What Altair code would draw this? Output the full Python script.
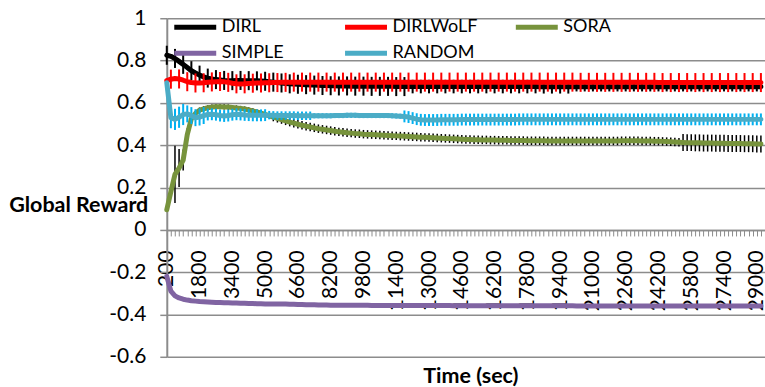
import altair as alt
import pandas as pd

FONT = "Lato"
SERIES = ["DIRL", "DIRLWoLF", "SORA", "SIMPLE", "RANDOM"]
SERIES_COLORS = {"DIRL": "#000000", "DIRLWoLF": "#FF0000", "SORA": "#77933C",
                 "SIMPLE": "#8064A2", "RANDOM": "#4BACC6"}
# legend is filled column by column (2 rows x 3 columns)
LEGEND_ORDER = ["DIRL", "SIMPLE", "DIRLWoLF", "RANDOM", "SORA"]
BAR_COLORS = {"DIRL": "#000000", "DIRLWoLF": "#FF0000", "SORA": "#000000", "RANDOM": "#00B0F0"}
T_START, T_STEP = 200, 200          # time (sec) of first sample and sampling step
X_LABEL_EVERY = 1600
Y_TICKS = [-0.6, -0.4, -0.2, 0, 0.2, 0.4, 0.6, 0.8, 1]

DIRL = [
    0.825, 0.820, 0.810, 0.796, 0.782, 0.767, 0.752, 0.741, 0.731, 0.723,
    0.717, 0.713, 0.710, 0.708, 0.706, 0.705, 0.705, 0.706, 0.706, 0.705,
    0.705, 0.704, 0.704, 0.703, 0.702, 0.700, 0.698, 0.696, 0.694, 0.692,
    0.690, 0.689, 0.688, 0.687, 0.686, 0.685, 0.684, 0.683, 0.682, 0.682,
    0.681, 0.681, 0.680, 0.680, 0.680, 0.679, 0.679, 0.679, 0.679, 0.678,
    0.678, 0.678, 0.678, 0.678, 0.678, 0.678, 0.677, 0.677, 0.677, 0.677,
    0.677, 0.677, 0.677, 0.677, 0.677, 0.677, 0.677, 0.677, 0.677, 0.677,
    0.677, 0.677, 0.677, 0.677, 0.677, 0.677, 0.677, 0.677, 0.677, 0.677,
    0.677, 0.677, 0.677, 0.677, 0.677, 0.677, 0.677, 0.677, 0.677, 0.677,
    0.677, 0.676, 0.676, 0.676, 0.676, 0.676, 0.676, 0.676, 0.676, 0.676,
    0.676, 0.676, 0.676, 0.676, 0.676, 0.676, 0.676, 0.676, 0.676, 0.676,
    0.676, 0.676, 0.676, 0.676, 0.676, 0.676, 0.676, 0.676, 0.676, 0.676,
    0.676, 0.676, 0.676, 0.676, 0.676, 0.676, 0.676, 0.676, 0.676, 0.676,
    0.676, 0.676, 0.676, 0.676, 0.676, 0.676, 0.676, 0.676, 0.676, 0.676,
    0.676, 0.676, 0.676, 0.676, 0.676, 0.676,
]
DIRLWOLF = [
    0.705, 0.712, 0.715, 0.713, 0.707, 0.700, 0.696, 0.694, 0.694, 0.695,
    0.697, 0.699, 0.700, 0.701, 0.700, 0.697, 0.693, 0.690, 0.689, 0.690,
    0.692, 0.693, 0.694, 0.694, 0.695, 0.695, 0.696, 0.696, 0.697, 0.697,
    0.698, 0.698, 0.698, 0.698, 0.698, 0.698, 0.698, 0.698, 0.698, 0.698,
    0.698, 0.698, 0.698, 0.698, 0.698, 0.698, 0.698, 0.698, 0.698, 0.698,
    0.698, 0.698, 0.698, 0.698, 0.698, 0.698, 0.698, 0.698, 0.698, 0.698,
    0.698, 0.698, 0.698, 0.698, 0.698, 0.698, 0.698, 0.698, 0.698, 0.698,
    0.698, 0.698, 0.698, 0.698, 0.698, 0.698, 0.698, 0.698, 0.698, 0.698,
    0.698, 0.698, 0.698, 0.698, 0.698, 0.698, 0.698, 0.698, 0.698, 0.698,
    0.698, 0.698, 0.698, 0.698, 0.698, 0.698, 0.698, 0.698, 0.698, 0.698,
    0.697, 0.697, 0.697, 0.697, 0.697, 0.697, 0.697, 0.697, 0.697, 0.697,
    0.697, 0.697, 0.697, 0.697, 0.697, 0.697, 0.697, 0.697, 0.697, 0.697,
    0.696, 0.696, 0.696, 0.696, 0.696, 0.696, 0.696, 0.696, 0.696, 0.696,
    0.696, 0.696, 0.696, 0.696, 0.696, 0.696, 0.696, 0.696, 0.696, 0.696,
    0.696, 0.696, 0.696, 0.696, 0.696, 0.696,
]
SORA = [
    0.095, 0.180, 0.262, 0.292, 0.330, 0.450, 0.525, 0.550, 0.566, 0.572,
    0.577, 0.580, 0.582, 0.582, 0.581, 0.580, 0.578, 0.576, 0.574, 0.571,
    0.567, 0.562, 0.557, 0.551, 0.545, 0.539, 0.533, 0.527, 0.521, 0.515,
    0.509, 0.504, 0.499, 0.494, 0.490, 0.486, 0.482, 0.478, 0.475, 0.472,
    0.469, 0.466, 0.463, 0.461, 0.459, 0.457, 0.455, 0.454, 0.452, 0.451,
    0.450, 0.449, 0.448, 0.447, 0.446, 0.445, 0.444, 0.443, 0.442, 0.441,
    0.440, 0.439, 0.438, 0.437, 0.436, 0.435, 0.434, 0.433, 0.432, 0.431,
    0.430, 0.429, 0.428, 0.427, 0.427, 0.426, 0.426, 0.425, 0.425, 0.424,
    0.424, 0.423, 0.423, 0.423, 0.422, 0.422, 0.422, 0.422, 0.421, 0.421,
    0.421, 0.421, 0.421, 0.420, 0.420, 0.420, 0.420, 0.420, 0.420, 0.420,
    0.420, 0.420, 0.420, 0.420, 0.420, 0.420, 0.420, 0.420, 0.420, 0.420,
    0.420, 0.421, 0.421, 0.421, 0.421, 0.421, 0.420, 0.420, 0.420, 0.419,
    0.419, 0.418, 0.417, 0.416, 0.415, 0.414, 0.413, 0.412, 0.412, 0.411,
    0.411, 0.410, 0.410, 0.410, 0.409, 0.409, 0.409, 0.408, 0.408, 0.408,
    0.408, 0.407, 0.407, 0.407, 0.406, 0.406,
]
SIMPLE = [
    -0.220, -0.290, -0.312, -0.322, -0.328, -0.332, -0.335, -0.337, -0.339, -0.340,
    -0.341, -0.342, -0.343, -0.344, -0.345, -0.345, -0.346, -0.346, -0.347, -0.347,
    -0.348, -0.348, -0.349, -0.349, -0.350, -0.350, -0.350, -0.351, -0.351, -0.351,
    -0.352, -0.352, -0.353, -0.353, -0.354, -0.354, -0.354, -0.355, -0.355, -0.355,
    -0.356, -0.356, -0.356, -0.356, -0.357, -0.357, -0.357, -0.357, -0.357, -0.357,
    -0.358, -0.358, -0.358, -0.358, -0.358, -0.358, -0.358, -0.358, -0.358, -0.358,
    -0.358, -0.358, -0.358, -0.358, -0.358, -0.358, -0.358, -0.358, -0.358, -0.358,
    -0.359, -0.359, -0.359, -0.359, -0.359, -0.359, -0.359, -0.359, -0.359, -0.359,
    -0.359, -0.359, -0.359, -0.359, -0.359, -0.359, -0.359, -0.359, -0.359, -0.359,
    -0.359, -0.359, -0.359, -0.359, -0.359, -0.359, -0.359, -0.359, -0.359, -0.359,
    -0.360, -0.360, -0.360, -0.360, -0.360, -0.360, -0.360, -0.360, -0.360, -0.360,
    -0.360, -0.360, -0.360, -0.360, -0.360, -0.360, -0.360, -0.360, -0.360, -0.360,
    -0.360, -0.360, -0.360, -0.360, -0.360, -0.360, -0.360, -0.360, -0.360, -0.360,
    -0.360, -0.360, -0.360, -0.360, -0.360, -0.360, -0.360, -0.360, -0.360, -0.360,
    -0.360, -0.360, -0.360, -0.360, -0.360, -0.360,
]
RANDOM = [
    0.695, 0.530, 0.522, 0.532, 0.545, 0.548, 0.540, 0.530, 0.533, 0.540,
    0.545, 0.546, 0.544, 0.540, 0.538, 0.540, 0.544, 0.546, 0.545, 0.543,
    0.542, 0.541, 0.541, 0.541, 0.542, 0.542, 0.541, 0.540, 0.540, 0.540,
    0.540, 0.540, 0.539, 0.539, 0.539, 0.539, 0.539, 0.539, 0.539, 0.539,
    0.539, 0.540, 0.540, 0.540, 0.541, 0.541, 0.541, 0.540, 0.540, 0.540,
    0.540, 0.540, 0.540, 0.540, 0.540, 0.539, 0.538, 0.537, 0.536, 0.533,
    0.528, 0.523, 0.520, 0.519, 0.519, 0.519, 0.519, 0.520, 0.520, 0.520,
    0.520, 0.520, 0.521, 0.521, 0.521, 0.521, 0.521, 0.521, 0.521, 0.521,
    0.521, 0.521, 0.521, 0.521, 0.521, 0.521, 0.522, 0.522, 0.522, 0.522,
    0.522, 0.522, 0.522, 0.522, 0.522, 0.522, 0.522, 0.522, 0.522, 0.522,
    0.522, 0.522, 0.522, 0.522, 0.522, 0.522, 0.522, 0.522, 0.522, 0.522,
    0.522, 0.522, 0.522, 0.522, 0.522, 0.522, 0.522, 0.522, 0.522, 0.522,
    0.522, 0.522, 0.522, 0.522, 0.522, 0.522, 0.522, 0.522, 0.522, 0.522,
    0.522, 0.522, 0.522, 0.522, 0.522, 0.522, 0.522, 0.522, 0.522, 0.522,
    0.522, 0.522, 0.522, 0.522, 0.522, 0.522,
]

# error-bar half widths, as runs of (number of samples, half width)
ERR_DIRL = [(60, 0.045), (40, 0.032), (46, 0.022)]
ERR_DIRLWOLF = [(146, 0.045)]
ERR_SORA = [(1, 0.0), (1, 0.03), (1, 0.135), (1, 0.09), (1, 0.05), (1, 0.03),
            (20, 0.012), (100, 0.02), (20, 0.04)]
ERR_RANDOM = [(1, 0.0), (4, 0.05), (5, 0.04), (15, 0.028), (11, 0.02),
              (22, 0.012), (88, 0.028)]

VALUES = {"DIRL": DIRL, "DIRLWoLF": DIRLWOLF, "SORA": SORA, "SIMPLE": SIMPLE, "RANDOM": RANDOM}
ERRORS = {"DIRL": ERR_DIRL, "DIRLWoLF": ERR_DIRLWOLF, "SORA": ERR_SORA, "RANDOM": ERR_RANDOM}
BAR_STRIDE = {"DIRL": (2, 0), "DIRLWoLF": (2, 1), "SORA": (1, 0), "RANDOM": (1, 0)}


def expand(runs):
    out = []
    for n, e in runs:
        out += [e] * n
    return out


line_rows, bar_rows = [], []
for s in SERIES:
    vals = VALUES[s]
    errs = expand(ERRORS[s]) if s in ERRORS else None
    for i, v in enumerate(vals):
        t = T_START + T_STEP * i
        line_rows.append({"series": s, "t": t, "value": v})
        if errs is not None:
            stride, off = BAR_STRIDE[s]
            e = errs[i]
            if (i - off) % stride == 0 and e > 0:
                bar_rows.append({"series": s, "t": t, "lo": v - e, "hi": v + e})

df_line = pd.DataFrame(line_rows)
df_bar = pd.DataFrame(bar_rows)

GRID = "#8c8c8c"
n_pts = len(DIRL)
x_max = T_START + T_STEP * n_pts  # one step of room after the last sample
x_scale = alt.Scale(domain=[T_START, x_max], nice=False, zero=False)
y_scale = alt.Scale(domain=[-0.6, 1], nice=False, zero=False)

x_axis = alt.Axis(
    values=list(range(T_START, x_max + 1, T_STEP)),
    format="d",
    labelExpr=f"(datum.value - {T_START}) % {X_LABEL_EVERY} == 0 ? datum.label : ''",
    labelAngle=-90, labelOverlap=False, labelFlush=False,
    labelFont=FONT, labelFontSize=21, labelColor="black", labelPadding=14,
    tickSize=6, tickColor=GRID, tickWidth=1,
    domainColor=GRID, domainWidth=1.5,
    offset=-127, grid=False, title=None,
)
y_axis = alt.Axis(
    values=Y_TICKS,
    labelExpr="datum.value < 0 ? '-' + format(-datum.value, '.1~f') : format(datum.value, '.1~f')",
    labelFont=FONT, labelFontSize=21, labelColor="black", labelPadding=14,
    tickSize=7, tickColor=GRID, tickWidth=1.5,
    domainColor=GRID, domainWidth=2,
    grid=True, gridColor=GRID, gridWidth=1.5,
    title="Global Reward", titleAngle=0, titleAlign="right", titleBaseline="alphabetic",
    titleX=-19, titleY=194, titleFont=FONT, titleFontSize=21.5, titleFontWeight="bold",
    titleColor="black",
)

legend = alt.Legend(
    orient="none", legendX=5, legendY=-4, columns=3, gridAlign="all",
    columnPadding=35, rowPadding=0, clipHeight=26, padding=0,
    symbolType="stroke", symbolSize=1764, symbolStrokeWidth=5,
    labelFont=FONT, labelFontSize=18, labelColor="black", labelOffset=3,
    labelLimit=300, title=None,
)
color = alt.Color(
    "series:N",
    scale=alt.Scale(domain=LEGEND_ORDER, range=[SERIES_COLORS[s] for s in LEGEND_ORDER]),
    legend=legend,
)

x_enc = alt.X("t:Q", scale=x_scale, axis=x_axis)

layers = []
for s in SERIES:
    if s in ERRORS:
        layers.append(
            alt.Chart(df_bar).transform_filter(alt.datum.series == s)
            .mark_rule(strokeWidth=2 if s != "SORA" else 1.5, color=BAR_COLORS[s])
            .encode(x=x_enc, y=alt.Y("lo:Q", scale=y_scale, axis=y_axis), y2="hi:Q")
        )
    layers.append(
        alt.Chart(df_line).transform_filter(alt.datum.series == s)
        .mark_line(strokeWidth=5, strokeJoin="round", strokeCap="round")
        .encode(x=x_enc, y=alt.Y("value:Q", scale=y_scale, axis=y_axis), color=color)
    )

chart = alt.layer(*layers).properties(
    width=599, height=339,
    padding={"left": 167, "top": 18, "right": 0, "bottom": 30},
    autosize=alt.AutoSizeParams(type="none"),
    background="white",
    title=alt.TitleParams(
        "Time (sec)", orient="bottom", anchor="middle", frame="group",
        offset=16, baseline="alphabetic", dx=5,
        font=FONT, fontSize=21.5, fontWeight="bold", color="black",
    ),
).configure_view(stroke=None).configure_legend(gridAlign="all")

chart.save("out.html", embed_options={"renderer": "svg", "actions": False})
